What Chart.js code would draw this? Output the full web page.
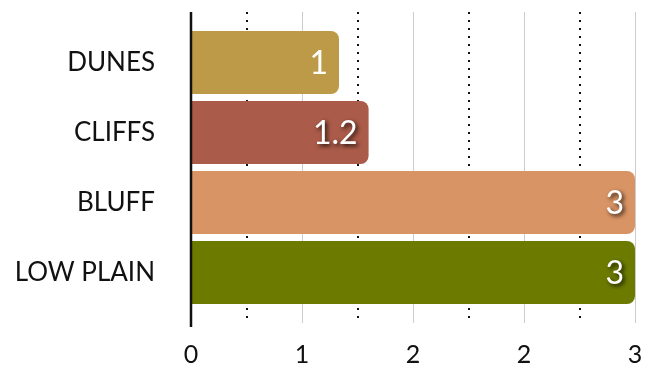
<!DOCTYPE html>
<html>
<head>
<meta charset="utf-8">
<script src="https://cdn.jsdelivr.net/npm/chart.js@4.4.1/dist/chart.umd.min.js"></script>
<style>
  html, body { margin: 0; padding: 0; background: #fff; }
  #wrap { width: 657px; height: 368px; }
</style>
</head>
<body>
<div id="wrap"><canvas id="myBarChart"></canvas></div>
<script>
// data
const categories = ['DUNES', 'CLIFFS', 'BLUFF', 'LOW PLAIN'];
const values = [1, 1.2, 3, 3];
const valueLabels = ['1', '1.2', '3', '3'];
const xTickLabels = ['0', '1', '2', '2', '3'];

const barColors = ['#bc9a47', '#ab5b49', '#d99465', '#6c7b00'];
const labelShadow = [false, true, true, true];
const FONT = 'Lato, "Open Sans", sans-serif';

// vertical grid: solid at ticks, dotted halfway between, black axis line at 0
const gridPlugin = {
  id: 'vgrid',
  beforeDatasetsDraw(chart) {
    const { ctx, chartArea } = chart;
    const x = chart.scales.x;
    const top = chartArea.top - 15.5;
    const vals = x.ticks.map(t => t.value);
    ctx.save();
    ctx.lineWidth = 1;
    ctx.strokeStyle = '#cccccc';
    vals.forEach(v => {
      if (v === 0) return;
      const px = Math.round(x.getPixelForValue(v)) + 0.5;
      ctx.beginPath();
      ctx.moveTo(px, top);
      ctx.lineTo(px, chartArea.bottom + 15.5);
      ctx.stroke();
    });
    ctx.lineWidth = 2;
    ctx.strokeStyle = '#111';
    ctx.setLineDash([2, 6]);
    for (let i = 0; i < vals.length - 1; i++) {
      const px = Math.round(x.getPixelForValue((vals[i] + vals[i + 1]) / 2));
      ctx.beginPath();
      ctx.moveTo(px, top);
      ctx.lineTo(px, chartArea.bottom + 12);
      ctx.stroke();
    }
    ctx.restore();
  },
  afterDatasetsDraw(chart) {
    const { ctx, chartArea } = chart;
    const px = chart.scales.x.getPixelForValue(0);
    ctx.save();
    ctx.lineWidth = 2.5;
    ctx.strokeStyle = '#111';
    ctx.beginPath();
    ctx.moveTo(px, chartArea.top - 15.5);
    ctx.lineTo(px, chartArea.bottom + 19.5);
    ctx.stroke();

    // value labels inside the bar ends
    const meta = chart.getDatasetMeta(0);
    ctx.font = '32px ' + FONT;
    ctx.textAlign = 'right';
    ctx.textBaseline = 'middle';
    ctx.fillStyle = '#fff';
    meta.data.forEach((bar, i) => {
      if (labelShadow[i]) {
        ctx.shadowColor = 'rgba(0,0,0,0.85)';
        ctx.shadowBlur = 4;
        ctx.shadowOffsetX = 2;
        ctx.shadowOffsetY = 2;
      } else {
        ctx.shadowColor = 'transparent';
      }
      ctx.fillText(valueLabels[i], bar.x - 11, bar.y + 1);
    });
    ctx.restore();
  }
};

const noPad = s => { s.paddingLeft = 0; s.paddingRight = 0; s.paddingTop = 0; s.paddingBottom = 0; };

new Chart(document.getElementById('myBarChart'), {
  type: 'bar',
  data: {
    labels: categories,
    datasets: [{
      data: values,
      backgroundColor: barColors,
      borderRadius: 8,
      borderSkipped: 'start',
      categoryPercentage: 0.9,
      barPercentage: 1
    }]
  },
  options: {
    indexAxis: 'y',
    responsive: true,
    maintainAspectRatio: false,
    animation: false,
    layout: { padding: { top: 27.5, right: 22, bottom: 0, left: 0 } },
    plugins: { legend: { display: false }, tooltip: { enabled: false } },
    scales: {
      x: {
        min: 0,
        max: 3,
        ticks: {
          stepSize: 0.75,
          padding: 0,
          color: '#111',
          font: { family: FONT, size: 25 },
          callback: (v, i) => xTickLabels[i]
        },
        grid: { display: false, drawTicks: true, tickLength: 32 },
        border: { display: false },
        afterFit: s => { noPad(s); s.height = 60.5; }
      },
      y: {
        ticks: {
          padding: 0,
          color: '#111',
          font: { family: FONT, size: 26 }
        },
        grid: { display: false, drawTicks: true, tickLength: 36 },
        border: { display: false },
        afterFit: s => { noPad(s); s.width = 191; }
      }
    }
  },
  plugins: [gridPlugin]
});
</script>
</body>
</html>
